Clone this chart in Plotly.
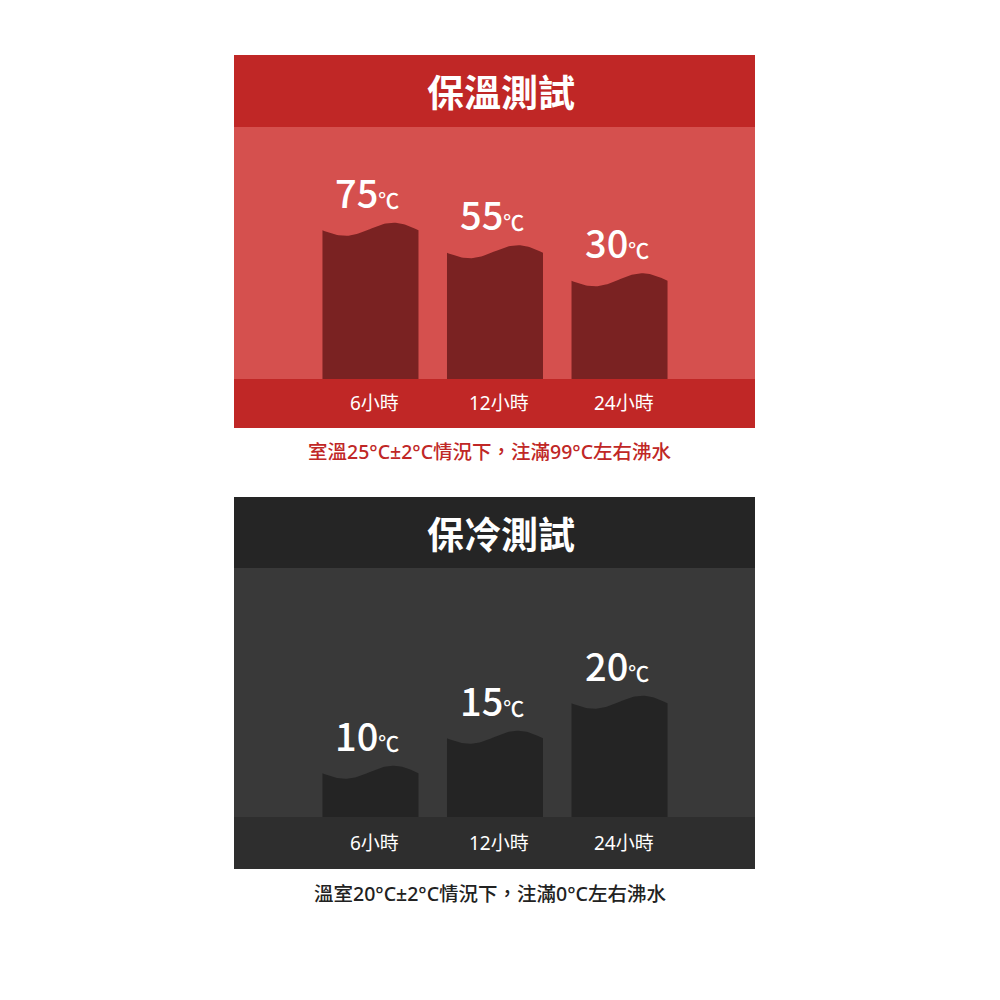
import numpy as np
import plotly.graph_objects as go

# ---------------- data ----------------
hours = ["6小時", "12小時", "24小時"]
hot_temps = [75, 55, 30]      # 保溫測試 (℃)
cold_temps = [10, 15, 20]     # 保冷測試 (℃)
hot_title = "保溫測試"
cold_title = "保冷測試"
hot_note = "室溫25°C±2°C情況下，注滿99°C左右沸水"
cold_note = "溫室20°C±2°C情況下，注滿0°C左右沸水"

FONT = "Noto Sans CJK TC"
FONT_MIX = "Noto Sans, Noto Sans CJK TC"

# ---------------- layout constants (pixels -> paper) ----------------
W = H = 1000
OFF = 8  # page body margin
def py(p):  # pixel y -> paper y
    return 1 - (p - OFF) / H
def px(p):
    return (p - OFF) / W

PX0, PX1 = 234, 755
panels = [
    dict(top=55, body=127, band=379, bottom=428,
         c_title="#C02726", c_body="#D5504E", c_bar="#7A2222", c_band="#C02726",
         temps=hot_temps, title=hot_title, note=hot_note, note_color="#C02726",
         yrange=[-57.4, 167.0], axis="y"),
    dict(top=497, body=568, band=817, bottom=869,
         c_title="#252525", c_body="#393939", c_bar="#242424", c_band="#2E2E2E",
         temps=cold_temps, title=cold_title, note=cold_note, note_color="#222222",
         yrange=[3.757, 39.33], axis="y2"),
]

xrange_ = [-1.096, 3.088]
half_w = 0.3855
xpos = list(range(len(hours)))

fig = go.Figure()
shapes = []
annotations = []

for k, p in enumerate(panels):
    for (a, b, c) in [(p["top"], p["body"], p["c_title"]),
                      (p["body"], p["band"], p["c_body"]),
                      (p["band"], p["bottom"], p["c_band"])]:
        shapes.append(dict(type="rect", xref="paper", yref="paper",
                           x0=px(PX0), x1=px(PX1), y0=py(b), y1=py(a),
                           fillcolor=c, line=dict(width=0), layer="below"))
    body_px = p["band"] - p["body"]
    unit_per_px = (p["yrange"][1] - p["yrange"][0]) / body_px
    ybase = p["yrange"][0]
    xa = "x" if k == 0 else "x2"
    for i, t in enumerate(p["temps"]):
        f = np.linspace(0, 1, 60)
        # decorative wave on the bar top (pixels, positive = up)
        wave_px = -6.5 * np.sin(2 * np.pi * f) + 1.5 * np.sin(np.pi * f)
        xs_top = xpos[i] - half_w + 2 * half_w * f
        ys_top = t + wave_px * unit_per_px
        xs = np.concatenate([[xpos[i] - half_w], xs_top, [xpos[i] + half_w, xpos[i] - half_w]])
        ys = np.concatenate([[ybase], ys_top, [ybase, ybase]])
        fig.add_trace(go.Scatter(x=xs, y=ys, mode="lines", fill="toself",
                                 fillcolor=p["c_bar"], line=dict(width=0),
                                 hoverinfo="skip", showlegend=False,
                                 xaxis=xa, yaxis=p["axis"]))
        annotations.append(dict(
            x=xpos[i], y=t, xref=xa, yref=p["axis"],
            text=f"{t}<span style='font-size:21px'>℃</span>",
            showarrow=False, yanchor="middle", xanchor="center",
            yshift=39, xshift=-3,
            font=dict(family=FONT, size=38, color="white", weight=500)))
        annotations.append(dict(
            x=xpos[i], y=py((p["band"] + p["bottom"]) / 2), xref=xa, yref="paper",
            text=hours[i], showarrow=False, xshift=4,
            yanchor="middle", xanchor="center",
            font=dict(family=FONT_MIX, size=19, color="white")))
    annotations.append(dict(
        x=px(501), y=py((p["top"] + p["body"]) / 2), xref="paper", yref="paper",
        text=f"<b>{p['title']}</b>", showarrow=False,
        yanchor="middle", xanchor="center",
        font=dict(family=FONT, size=37, color="white")))
    annotations.append(dict(
        x=px(490), y=py(p["bottom"] + 24), xref="paper", yref="paper",
        text=p["note"], showarrow=False,
        yanchor="middle", xanchor="center",
        font=dict(family=FONT_MIX, size=19.5, color=p["note_color"], weight=500)))

axis_common = dict(showgrid=False, zeroline=False, showticklabels=False,
                   showline=False, ticks="", fixedrange=True)
fig.update_layout(
    width=W, height=H,
    margin=dict(l=0, r=0, t=0, b=0),
    paper_bgcolor="white", plot_bgcolor="rgba(0,0,0,0)",
    showlegend=False,
    shapes=shapes, annotations=annotations,
    xaxis=dict(domain=[px(PX0), px(PX1)], range=xrange_, anchor="y", **axis_common),
    yaxis=dict(domain=[py(379), py(127)], range=panels[0]["yrange"], anchor="x", **axis_common),
    xaxis2=dict(domain=[px(PX0), px(PX1)], range=xrange_, anchor="y2", **axis_common),
    yaxis2=dict(domain=[py(817), py(568)], range=panels[1]["yrange"], anchor="x2", **axis_common),
)

fig.write_html("out.html")
